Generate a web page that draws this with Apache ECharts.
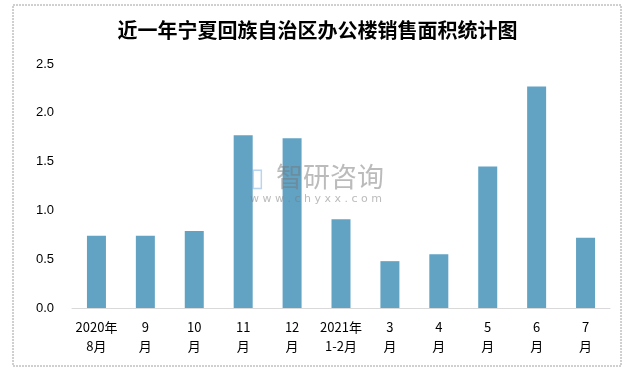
<!DOCTYPE html>
<html><head><meta charset="utf-8">
<script src="https://cdn.jsdelivr.net/npm/echarts@6/dist/echarts.min.js"></script>
<style>html,body{margin:0;padding:0;background:#fff}#c{width:635px;height:373px}</style>
</head><body><div id="c"></div>
<script>
var categories = ['2020年\n8月','9\n月','10\n月','11\n月','12\n月','2021年\n1-2月','3\n月','4\n月','5\n月','6\n月','7\n月'];
var values = [0.74, 0.74, 0.79, 1.77, 1.74, 0.91, 0.48, 0.55, 1.45, 2.27, 0.72];
var yTicks = [0, 0.5, 1.0, 1.5, 2.0, 2.5];
var title = '近一年宁夏回族自治区办公楼销售面积统计图';

var chart = echarts.init(document.getElementById('c'));
chart.setOption({
  animation: false,
  title: {text: title, left: 'center', top: 15,
    textStyle: {fontFamily: 'Noto Sans CJK SC', fontSize: 20, fontWeight: 'bold', color: '#000'}},
  graphic: [
    {type: 'rect', shape: {x: 13, y: 5, width: 608, height: 361},
     style: {fill: 'none', stroke: '#a0a0a0', lineWidth: 1, lineDash: [2, 1]}, z: -1},
    {type: 'text', left: 250, top: 166, z: 10,
     style: {text: '▯', fontFamily: 'DejaVu Sans', fontSize: 26, fill: 'rgba(120,170,220,0.5)'}},
    {type: 'text', left: 276, top: 163, z: 10,
     style: {text: '智研咨询', fontFamily: 'Noto Sans CJK SC', fontSize: 27, fill: 'rgba(120,120,120,0.5)'}},
    {type: 'text', left: 250, top: 194, z: 10,
     style: {text: 'w w w . c h y x x . c o m', fontFamily: 'DejaVu Sans', fontSize: 11, fill: 'rgba(120,120,120,0.5)'}}
  ],
  grid: {left: 72, right: 25, top: 64, bottom: 65},
  xAxis: {type: 'category', data: categories,
    axisLine: {lineStyle: {color: '#d9d9d9'}}, axisTick: {show: false},
    axisLabel: {interval: 0, color: '#000', fontSize: 13, fontFamily: 'Noto Sans CJK SC', lineHeight: 19, margin: 10}},
  yAxis: {type: 'value', min: 0, max: 2.5, interval: 0.5,
    axisLine: {show: false}, axisTick: {show: false}, splitLine: {show: false},
    axisLabel: {color: '#000', fontSize: 13, fontFamily: 'Liberation Sans', margin: 18,
      formatter: function (v) { return v.toFixed(1); }}},
  series: [{type: 'bar', data: values, barWidth: 19, itemStyle: {color: '#62a3c4'}}]
});
</script></body></html>
